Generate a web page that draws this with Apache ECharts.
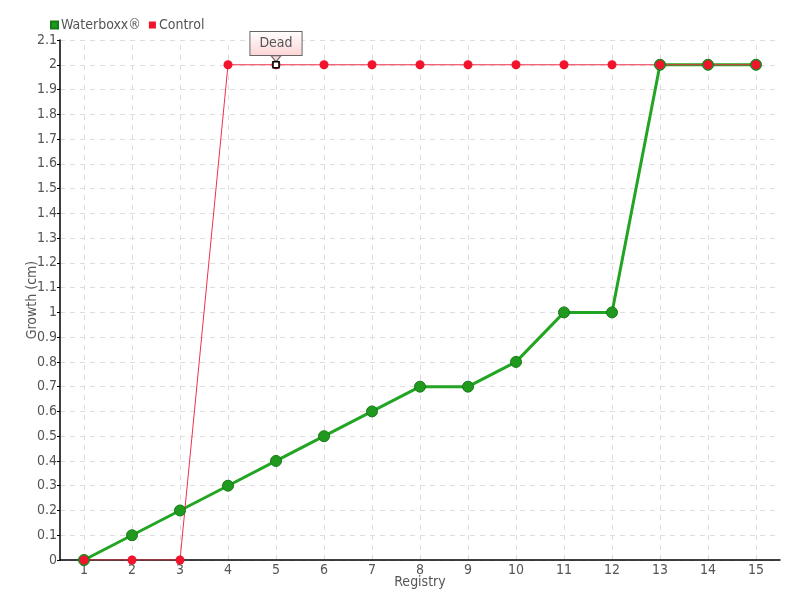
<!DOCTYPE html>
<html><head><meta charset="utf-8">
<script src="https://cdn.jsdelivr.net/npm/echarts@6/dist/echarts.min.js"></script>
<style>html,body{margin:0;padding:0;background:#fff}#c{width:800px;height:600px}</style>
</head><body><div id="c"></div>
<script>
const categories = ['1','2','3','4','5','6','7','8','9','10','11','12','13','14','15'];
const waterboxx = [0,0.1,0.2,0.3,0.4,0.5,0.6,0.7,0.7,0.8,1,1,2,2,2];
const control = [0,0,0,2,2,2,2,2,2,2,2,2,2,2,2];
const deadIndex = 4;
const deadLabel = 'Dead';

const FONT = "'DejaVu Sans Condensed','Liberation Sans Narrow',sans-serif";
const chart = echarts.init(document.getElementById('c'));
chart.setOption({
  animation: false,
  textStyle: { fontFamily: FONT },
  legend: {
    left: 45, top: 13, icon: 'rect', itemWidth: 7, itemHeight: 7, itemGap: 8,
    textStyle: { fontFamily: FONT, fontSize: 14, color: '#555', padding: [0, 0, 0, -2] },
    data: ['Waterboxx®', 'Control']
  },
  grid: { left: 60, right: 20, top: 40, bottom: 40 },
  xAxis: {
    type: 'category', data: categories, boundaryGap: true,
    name: 'Registry', nameLocation: 'middle', nameGap: 15, nameMoveOverlap: false,
    nameTextStyle: { fontFamily: FONT, fontSize: 14, color: '#555' },
    axisLine: { lineStyle: { color: '#000', width: 1.5 } },
    axisTick: { alignWithLabel: true, length: 4, lineStyle: { color: '#000' } },
    axisLabel: { fontFamily: FONT, fontSize: 14, color: '#555', margin: 3 },
    splitLine: { show: false }
  },
  yAxis: {
    type: 'value', min: 0, max: 2.1, interval: 0.1,
    name: 'Growth (cm)', nameLocation: 'middle', nameGap: 21, nameMoveOverlap: false,
    nameTextStyle: { fontFamily: FONT, fontSize: 14, color: '#555' },
    axisLine: { show: true, lineStyle: { color: '#000', width: 1.5 } },
    axisTick: { show: true, length: 3, lineStyle: { color: '#000' } },
    axisLabel: { fontFamily: FONT, fontSize: 14, color: '#555', margin: 3,
      formatter: v => String(Math.round(v * 10) / 10) },
    splitLine: { show: true, lineStyle: { type: [5, 5], color: '#ddd' } }
  },
  series: [
    {
      name: 'gridlines', type: 'line', data: [], silent: true, z: 0,
      markLine: {
        z: 0, silent: true, symbol: 'none', label: { show: false },
        lineStyle: { type: [5, 5], color: '#ddd', width: 1 },
        emphasis: { disabled: true },
        data: categories.map(c => ({ xAxis: c }))
      }
    },
    {
      name: 'Waterboxx®', type: 'line', data: waterboxx,
      color: '#1f9e1f',
      symbol: 'circle', symbolSize: 11,
      lineStyle: { width: 3, color: '#22a522' },
      itemStyle: { color: '#1f9a1f', borderColor: '#167a16', borderWidth: 1 }
    },
    {
      name: 'Control', type: 'line', data: control,
      color: '#f0142d',
      symbol: 'circle', symbolSize: 9,
      lineStyle: { width: 1, color: '#f0304a' },
      itemStyle: { color: '#f0142d' },
      markPoint: {
        data: [
          {
            coord: [deadIndex, control[deadIndex]],
            symbol: 'triangle', symbolRotate: 180, symbolSize: [10, 6], symbolOffset: [0, -6],
            itemStyle: { color: '#fcd8d8', borderColor: '#666', borderWidth: 1 },
            label: { show: false }
          },
          {
            coord: [deadIndex, control[deadIndex]],
            symbol: 'rect', symbolSize: 6,
            itemStyle: { color: '#fff', borderColor: '#000', borderWidth: 1.5 },
            label: {
              show: true, position: 'top', distance: 6,
              formatter: deadLabel, fontFamily: FONT, fontSize: 14, color: '#555',
              backgroundColor: { type: 'linear', x: 0, y: 0, x2: 0, y2: 1,
                colorStops: [{ offset: 0, color: '#fff' }, { offset: 1, color: '#fcd4d4' }] },
              borderColor: '#666', borderWidth: 1, padding: [4, 9, 5, 9]
            }
          }
        ]
      }
    }
  ]
});
</script></body></html>
